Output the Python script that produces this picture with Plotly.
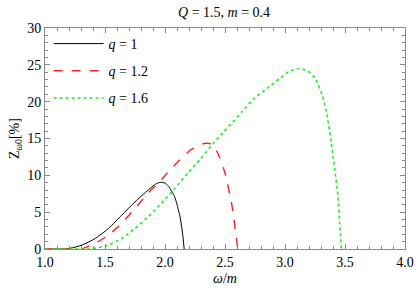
import plotly.graph_objects as go

# q = 1 (black, solid)
w_q1 = [1.0, 1.15, 1.21, 1.31, 1.42, 1.53, 1.64, 1.75, 1.86, 1.92, 1.96, 2.0, 2.03, 2.08, 2.125, 2.145, 2.16]
z_q1 = [0.0, 0.0, 0.1, 0.54, 1.45, 2.8, 4.6, 6.4, 8.0, 8.8, 9.05, 8.95, 8.5, 7.1, 4.4, 2.3, 0.0]

# q = 1.2 (red, dashed)
w_q12 = [1.0, 1.2, 1.31, 1.42, 1.53, 1.64, 1.75, 1.86, 1.97, 2.04, 2.125, 2.21, 2.32, 2.39, 2.44, 2.5, 2.56, 2.6, 2.605]
z_q12 = [0.0, 0.0, 0.05, 0.8, 1.9, 3.5, 5.5, 7.6, 9.4, 10.7, 12.1, 13.4, 14.3, 14.25, 13.0, 10.3, 5.7, 0.8, 0.0]

# q = 1.6 (green, dotted)
w_q16 = [1.0, 1.3, 1.39, 1.53, 1.64, 1.75, 1.86, 1.97, 2.08, 2.19, 2.29, 2.4, 2.49, 2.64, 2.74, 2.85, 2.96,
         3.04, 3.12, 3.19, 3.25, 3.31, 3.35, 3.38, 3.41, 3.44, 3.455, 3.47]
z_q16 = [0.0, 0.0, 0.02, 0.54, 1.45, 2.8, 4.4, 6.2, 8.2, 10.3, 12.1, 14.3, 15.9, 18.6, 20.4, 21.8, 23.2,
         24.15, 24.5, 24.15, 23.2, 20.9, 18.2, 15.0, 11.4, 7.3, 3.7, 0.0]

x_ticks = [1.0, 1.5, 2.0, 2.5, 3.0, 3.5, 4.0]
y_ticks = [0, 5, 10, 15, 20, 25, 30]

FONT = "Liberation Serif"
FRAME = "#8a8a8a"

fig = go.Figure()
fig.add_trace(go.Scatter(x=w_q1, y=z_q1, mode="lines", name="<i>q</i> = 1", legendgroup="a",
                         line=dict(color="black", width=1, shape="spline", smoothing=0.6)))
fig.add_trace(go.Scatter(x=w_q12, y=z_q12, mode="lines", name="<i>q</i> = 1.2", legendgroup="b",
                         line=dict(color="#ff2020", width=1.4, dash="dash", shape="spline", smoothing=0.6)))
fig.add_trace(go.Scatter(x=w_q16, y=z_q16, mode="lines", name="<i>q</i> = 1.6", legendgroup="c",
                         line=dict(color="#22ee22", width=1.6, dash="dot", shape="spline", smoothing=0.6)))

axis_common = dict(
    showgrid=False, zeroline=False, showline=True, linecolor=FRAME, linewidth=1,
    mirror="ticks", ticks="inside", ticklen=5, tickcolor=FRAME, tickwidth=1,
    tickfont=dict(family=FONT, size=14, color="black"), ticklabeloverflow="allow",
)

fig.update_xaxes(range=[1.0, 4.0], tickvals=x_ticks, ticktext=[f"{v:.1f}" for v in x_ticks],
                 minor=dict(dtick=0.1, ticks="inside", ticklen=3, tickcolor=FRAME, showgrid=False),
                 title=dict(text="<i>ω</i>/<i>m</i>", font=dict(family=FONT, size=14, color="black"), standoff=4),
                 **axis_common)
fig.update_yaxes(range=[0, 30], tickvals=y_ticks,
                 minor=dict(dtick=1, ticks="inside", ticklen=3, tickcolor=FRAME, showgrid=False),
                 title=dict(text="Z<sub>ω0</sub>[%]", font=dict(family=FONT, size=14, color="black"), standoff=4),
                 **axis_common)

fig.update_layout(
    width=415, height=291,
    margin=dict(l=45, r=10, t=28, b=42, autoexpand=False),
    plot_bgcolor="white", paper_bgcolor="white",
    font=dict(family=FONT, color="black"),
    title=dict(text="<i>Q</i> = 1.5, <i>m</i> = 0.4", x=0.54, xanchor="center", y=0.96, yanchor="middle",
               font=dict(family=FONT, size=14, color="black")),
    legend=dict(x=0.01, y=1.0, xanchor="left", yanchor="top", bgcolor="rgba(0,0,0,0)",
                font=dict(family=FONT, size=14, color="black"), tracegroupgap=6, itemwidth=50),
    showlegend=True,
)

fig.write_html("out.html", config={"displayModeBar": False},
               post_script="document.body.style.margin='0';")
